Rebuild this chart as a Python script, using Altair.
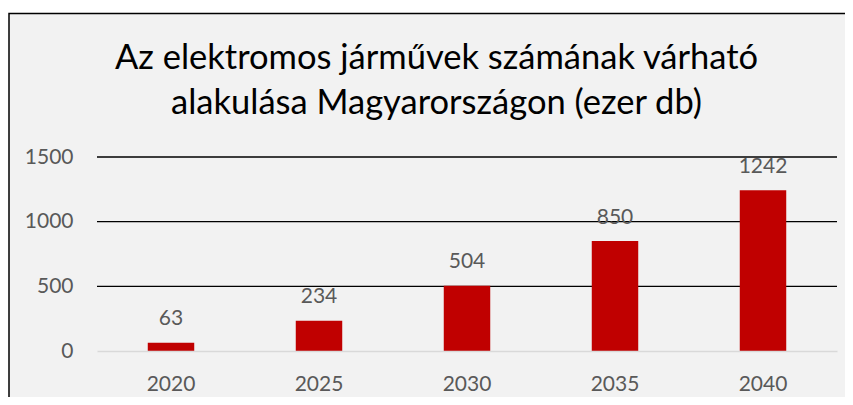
import altair as alt
import pandas as pd

years = ["2020", "2025", "2030", "2035", "2040"]
values = [63, 234, 504, 850, 1242]
y_ticks = [0, 500, 1000, 1500]
title_lines = ["Az elektromos járművek számának várható", "alakulása Magyarországon (ezer db)"]

df = pd.DataFrame({"year": years, "value": values})
grid_df = pd.DataFrame({"v": y_ticks[1:]})
title_df = pd.DataFrame({"t": ["\n".join(title_lines)]})

FONT = "Lato"
GRAY = "#595959"

frame = alt.Chart(pd.DataFrame({"a": [0]})).mark_rect(
    fill="#f2f2f2", stroke="black", strokeWidth=1.5
).encode(
    x=alt.value(-88), x2=alt.value(800), y=alt.value(-143.5), y2=alt.value(300)
)

title = alt.Chart(title_df).mark_text(
    font=FONT, fontSize=34.5, color="black", align="center", baseline="alphabetic",
    lineBreak="\n", lineHeight=45
).encode(x=alt.value(339.5), y=alt.value(-88), text="t:N")

yscale = alt.Scale(domain=[0, 1500])
yaxis = alt.Axis(values=y_ticks, format="d", labelFont=FONT, labelFontSize=21,
                 labelColor=GRAY, ticks=False, tickSize=0, labelPadding=24,
                 domain=False, grid=False, zindex=1)

grid = alt.Chart(grid_df).mark_rule(color="black", strokeWidth=1.3).encode(
    y=alt.Y("v:Q", scale=yscale, axis=yaxis, title=None), x=alt.value(0), x2=alt.value(740)
)

xenc = alt.X("year:N", sort=years, title=None,
             scale=alt.Scale(paddingInner=0.686, paddingOuter=0.343),
             axis=alt.Axis(labelAngle=0, labelFont=FONT, labelFontSize=21, labelColor=GRAY,
                           ticks=False, tickSize=0, labelPadding=22, domainColor="#d9d9d9",
                           domainWidth=1.5, grid=False, zindex=1))
yenc = alt.Y("value:Q", title=None, scale=yscale, axis=yaxis)

bars = alt.Chart(df).mark_bar(color="#c00000").encode(x=xenc, y=yenc)
labels = alt.Chart(df).mark_text(
    font=FONT, fontSize=21, color=GRAY, baseline="alphabetic", dy=-17.5
).encode(x=alt.X("year:N", sort=years), y=alt.Y("value:Q", scale=yscale), text="value:Q")

chart = alt.layer(frame, title, grid, bars, labels).properties(
    width=740, height=194,
    padding={"left": 89, "top": 149, "right": 8, "bottom": 46},
    autosize=alt.AutoSizeParams(type="none"),
    background="white",
).configure_view(stroke=None)

chart.save("out.html", embed_options={"renderer": "svg", "actions": False})
